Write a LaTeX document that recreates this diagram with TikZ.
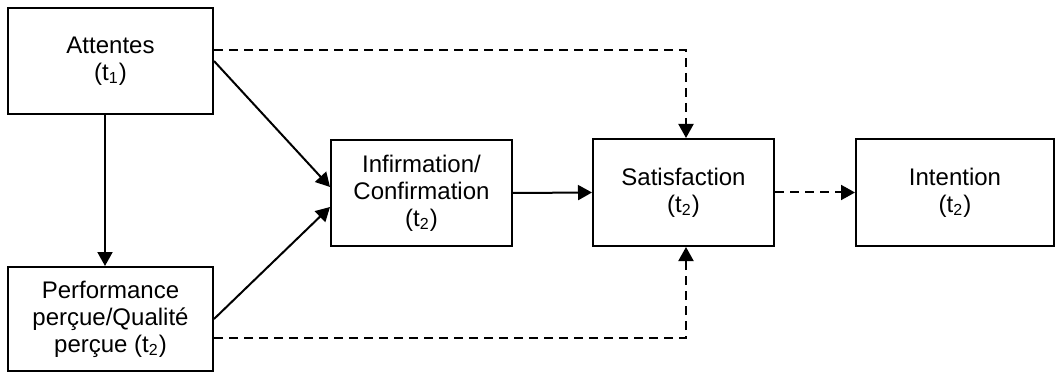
\documentclass[tikz,border=0pt]{standalone}
\usepackage{fontspec}
\setmainfont{Liberation Sans}
\usepackage{tikz}
\usetikzlibrary{arrows.meta, positioning}

\begin{document}
\begin{tikzpicture}[
    x=0.5pt, y=-0.5pt,
    stage/.style={draw, line width=1pt, align=center, inner sep=2pt, font=\fontsize{12}{13.5}\selectfont},
    arrow/.style={-{Triangle[length=7pt, width=7.5pt]}, line width=1pt},
    dasharrow/.style={arrow, dash pattern=on 4.5pt off 3pt}
]
    \useasboundingbox (0,0) rectangle (1061,374);

    % Stages
    \node[stage, minimum width=102.5pt, minimum height=53pt] (att) at (110.5,61) {Attentes\\(t\textsubscript{1})};
    \node[stage, minimum width=102.5pt, minimum height=52pt] (perf) at (110.5,319) {Performance\\perçue/Qualité\\perçue (t\textsubscript{2})};
    \node[stage, minimum width=90.5pt, minimum height=53pt] (inf) at (421.5,193) {Infirmation/\\Confirmation\\(t\textsubscript{2})};
    \node[stage, minimum width=90.5pt, minimum height=53.5pt] (sat) at (683.5,192.5) {Satisfaction\\(t\textsubscript{2})};
    \node[stage, minimum width=99pt, minimum height=53.5pt] (int) at (955,192.5) {Intention\\(t\textsubscript{2})};

    % Links
    \draw[arrow] ([xshift=-2.75pt]att.south) -- ([xshift=-2.75pt]perf.north);
    \draw[arrow] (att.east) -- ([yshift=3pt]inf.west);
    \draw[arrow] (perf.east) -- ([yshift=-7pt]inf.west);
    \draw[arrow] (inf.east) -- (sat.west);
    \draw[dasharrow] ([yshift=5.5pt]att.east) -| ([xshift=1.25pt]sat.north);
    \draw[dasharrow] ([yshift=-9.5pt]perf.east) -| ([xshift=1.25pt]sat.south);
    \draw[dasharrow] (sat.east) -- (int.west);
\end{tikzpicture}
\end{document}
